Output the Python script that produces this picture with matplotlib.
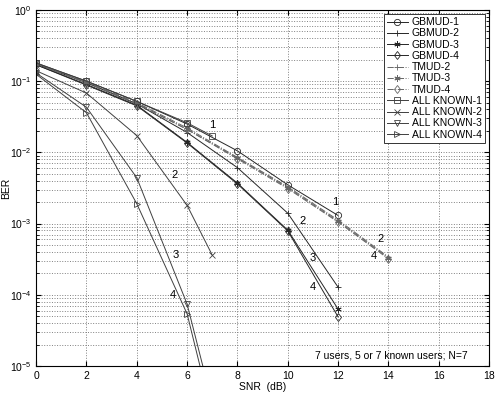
import numpy as np
import matplotlib
matplotlib.use("Agg")
import matplotlib.pyplot as plt

plt.rcParams['font.family'] = ['Liberation Sans', 'DejaVu Sans']

# SNR points (dB)
snr_gb = [0, 2, 4, 6, 8, 10, 12]
snr_tm = [0, 2, 4, 6, 8, 10, 12, 14]
snr_ak = [0, 2, 4, 6, 7]

# BER values
gbmud1 = [0.18, 0.10, 0.052, 0.025, 0.0105, 0.0035, 0.0013]
gbmud2 = [0.175, 0.095, 0.048, 0.019, 0.0061, 0.0014, 0.000128]
gbmud3 = [0.17, 0.09, 0.046, 0.0138, 0.0037, 0.00081, 0.000063]
gbmud4 = [0.17, 0.088, 0.045, 0.0135, 0.0036, 0.00079, 0.000049]
tmud2 = [0.175, 0.097, 0.050, 0.022, 0.0085, 0.0033, 0.00112, 0.00034]
tmud3 = [0.175, 0.096, 0.049, 0.021, 0.0083, 0.0032, 0.00108, 0.00033]
tmud4 = [0.175, 0.095, 0.048, 0.021, 0.0081, 0.0031, 0.00105, 0.00032]
known1 = [0.18, 0.10, 0.052, 0.026, 0.017]
known2 = [0.14, 0.068, 0.0172, 0.0018, 0.00036]
known3 = [0.13, 0.043, 0.0044, 0.000074, 0.000003]
known4 = [0.125, 0.036, 0.0019, 0.000054, 0.000002]

asterisk = (6, 2, 0)

fig = plt.figure(figsize=(4.95, 3.97), dpi=100)
ax = fig.add_axes([0.073, 0.078, 0.915, 0.897])

kw = dict(lw=0.7, ms=4.5, mfc='none', mew=0.6)
ax.semilogy(snr_gb, gbmud1, '-', marker='o', color='0.15', label='GBMUD-1', **kw)
ax.semilogy(snr_gb, gbmud2, '-', marker='+', color='0.15', label='GBMUD-2', **kw)
ax.semilogy(snr_gb, gbmud3, '-', marker=asterisk, color='0.15', label='GBMUD-3', **kw)
ax.semilogy(snr_gb, gbmud4, '-', marker='d', color='0.15', label='GBMUD-4', **kw)
ax.semilogy(snr_tm, tmud2, '-.', marker='+', color='0.4', label='TMUD-2', **kw)
ax.semilogy(snr_tm, tmud3, '-.', marker=asterisk, color='0.4', label='TMUD-3', **kw)
ax.semilogy(snr_tm, tmud4, '-.', marker='d', color='0.4', label='TMUD-4', **kw)
ax.semilogy(snr_ak, known1, '-', marker='s', color='0.25', label='ALL KNOWN-1', **kw)
ax.semilogy(snr_ak, known2, '-', marker='x', color='0.25', label='ALL KNOWN-2', **kw)
ax.semilogy(snr_ak, known3, '-', marker='v', color='0.25', label='ALL KNOWN-3', **kw)
ax.semilogy(snr_ak, known4, '-', marker='>', color='0.25', label='ALL KNOWN-4', **kw)

ax.set_xlim(0, 18)
ax.set_ylim(1e-5, 1)
ax.set_xticks(np.arange(0, 19, 2))
ax.grid(True, which='major', ls=':', color='0.5', lw=0.7)
ax.grid(True, which='minor', axis='y', ls=':', color='0.5', lw=0.7)
ax.tick_params(which='both', direction='in', top=True, right=True, labelsize=7.5)
ax.set_xlabel('SNR  (dB)', fontsize=7.5, labelpad=1)
ax.set_ylabel('BER', fontsize=7.5)
ax.yaxis.set_label_coords(-0.055, 0.5)

# curve index labels
lab_x = [6.98, 5.52, 5.54, 5.45, 11.87, 10.6, 10.99, 10.98, 13.68, 13.41]
lab_y = [0.0243, 0.0048, 3.6e-4, 1.0e-4, 0.002, 0.0011, 3.3e-4, 1.3e-4, 6.0e-4, 3.5e-4]
lab_t = ['1', '2', '3', '4', '1', '2', '3', '4', '2', '4']
for x, y, t in zip(lab_x, lab_y, lab_t):
    ax.text(x, y, t, fontsize=8, ha='center', va='center')

ax.text(14.1, 1.4e-5, '7 users, 5 or 7 known users; N=7', fontsize=7.5,
        ha='center', va='center')

leg = ax.legend(loc='upper right', fontsize=7.5, labelspacing=0.12,
                handlelength=2.0, handletextpad=0.4, borderaxespad=0.4,
                fancybox=False, framealpha=1, edgecolor='0.2', borderpad=0.3)
leg.get_frame().set_linewidth(0.7)

fig.savefig('out.png', dpi=100)
